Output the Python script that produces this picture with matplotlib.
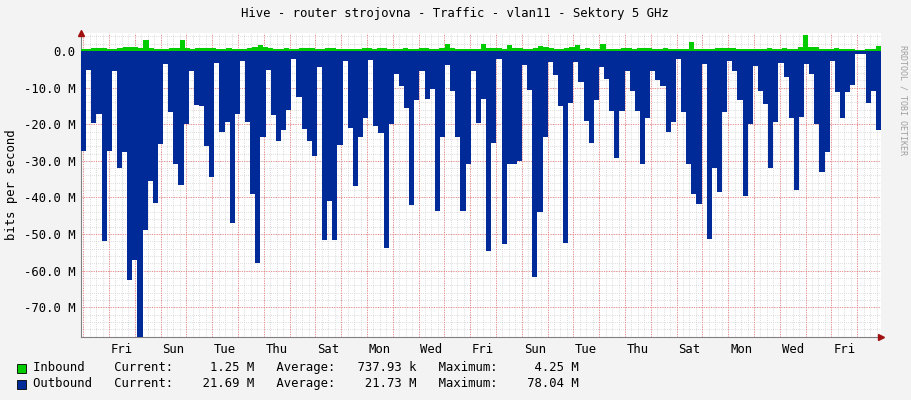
import matplotlib
matplotlib.use("Agg")
import matplotlib.pyplot as plt
import numpy as np

# Outbound traffic (Mbit/s, magnitude; drawn negative), ~4.8h steps
outbound = [27.2,5.2,19.7,17.2,52,27.2,5.5,32,27.6,62.6,57,78,49,35.5,41.4,25.4,3.6,16.8,31,36.5,
            20,5.5,14.7,15,26,34.3,3.4,22,19.5,47,17.2,2.7,19.5,39,58,23.4,5.2,17.5,24.5,21.7,
            16,2.2,12.5,21.4,24.7,28.8,4.3,51.7,41,51.7,25.6,2.7,21,
            36.8,23.4,18.4,2.5,20.6,22.5,53.8,20,6.3,9.7,15.5,42,13.5,5.5,13,10.3,43.8,23.4,3.8,10.8,
            23.4,43.8,31,5.5,19.7,13,54.5,25,2.2,52.7,31,30.8,30,3.8,10.6,61.8,44,23.5,3,6.5,14.9,
            52.5,14.3,3,8.5,19,25.2,13.5,4.3,7.6,16.5,29.3,
            16.5,5.6,10.8,16.5,31,18.4,5.5,7.9,9.7,22.2,19.3,2.2,16.7,31,39,41.8,3.6,51.4,32,38.4,
            16.7,2.7,5.4,13.4,39.7,20,4.1,11,14.5,32,19.5,3.4,7,18.4,38,18,3.6,6.4,20,33,27.5,2.7,
            11.3,18.4,11.3,9.3,0.8,0.8,14.3,11,21.7]
# Inbound traffic (Mbit/s)
inbound = [0.5,0.6,0.8,0.9,0.7,0.5,0.6,0.9,1.0,1.2,1.0,0.8,3.0,0.8,0.6,0.5,0.6,0.7,0.8,3.0,
           0.8,0.6,0.9,0.9,0.9,0.7,0.5,0.6,0.7,0.6,0.5,0.5,0.8,1.2,1.5,1.1,0.8,0.6,0.5,0.7,
           0.6,0.5,0.7,0.8,0.7,0.6,0.5,0.8,0.7,0.6,0.5,0.6,0.5,
           0.6,0.8,0.9,0.5,0.9,0.9,0.4,0.4,0.5,0.8,0.4,0.6,0.8,0.8,0.6,0.5,0.9,1.8,0.7,0.5,
           0.6,0.5,0.6,0.5,2.0,0.9,0.9,0.8,0.5,1.6,0.9,0.8,0.5,0.6,0.8,1.4,1.0,0.8,0.5,0.6,
           0.9,1.2,1.5,0.5,0.9,0.6,0.6,1.9,0.5,0.5,0.6,0.8,
           0.9,0.6,0.7,0.8,0.8,0.5,0.6,0.7,0.6,0.6,0.5,0.5,2.4,0.5,0.6,0.6,0.4,0.9,0.8,0.8,
           0.7,0.5,0.6,0.5,0.6,0.5,0.6,0.7,0.6,0.6,0.7,0.5,0.6,1.0,4.25,1.0,1.1,0.6,0.5,0.6,
           0.7,0.6,0.5,0.6,0.3,0.3,0.6,0.5,1.25]
day_labels = ["Fri","Sun","Tue","Thu","Sat","Mon","Wed","Fri","Sun","Tue","Thu","Sat","Mon","Wed","Fri"]
ytick_vals = [0,-10,-20,-30,-40,-50,-60,-70]
ytick_labels = ["0.0","-10.0 M","-20.0 M","-30.0 M","-40.0 M","-50.0 M","-60.0 M","-70.0 M"]

W, H = 911, 400
fig = plt.figure(figsize=(W/100, H/100), dpi=100, facecolor="#F3F3F3")
ax = fig.add_axes([81/W, 63/H, 800/W, 304/H])
ax.set_facecolor("white")

x0, x1 = -1.085, -1.085 + 800/25.8

def step_fill(vals, color):
    v = np.asarray(vals, dtype=float)
    e = np.linspace(x0, x1, len(v) + 1)
    ax.fill_between(e, np.append(v, v[-1]), 0, step="post", color=color, lw=0, zorder=3)

step_fill(-np.array(outbound), "#002A97")
step_fill(inbound, "#00CC00")

ax.set_xlim(x0, x1)
ax.set_ylim(-78.1, 4.9)
mono = "DejaVu Sans Mono"
ax.set_xticks([2*i + 0.5 for i in range(len(day_labels))])
ax.set_xticklabels(day_labels, family=mono, fontsize=8.8)
ax.set_yticks(ytick_vals)
ax.set_yticklabels(ytick_labels, family=mono, fontsize=8.8)
ax.tick_params(which="both", length=0, pad=4, colors="#000000")
for v in np.arange(-78, 5, 2):
    ax.axhline(v, color="#D0D0D0", lw=0.6, ls=(0, (1, 1.5)), zorder=1)
for v in np.arange(-1, 30.5, 0.25):
    ax.axvline(v, color="#D0D0D0", lw=0.6, ls=(0, (1, 1.5)), zorder=1)
for v in ytick_vals:
    ax.axhline(v, color="#F08080", lw=0.7, ls=(0, (1, 1.5)), zorder=2)
for v in range(-1, 31):
    ax.axvline(v, color="#F08080", lw=0.7, ls=(0, (1, 1.5)), zorder=2)
for s in ["top", "right"]:
    ax.spines[s].set_visible(False)
ax.spines["left"].set_color("#808080")
ax.spines["bottom"].set_color("#808080")
ax.set_ylabel("bits per second", family=mono, fontsize=8.8, labelpad=4)
# axis arrows
ax.plot([1.0], [0], marker=">", color="#A01010", ms=4, transform=ax.transAxes, clip_on=False, zorder=5)
ax.plot([0], [1.0], marker="^", color="#A01010", ms=4, transform=ax.transAxes, clip_on=False, zorder=5)

fig.text(455/W, 1 - 14/H, "Hive - router strojovna - Traffic - vlan11 - Sektory 5 GHz",
         family=mono, fontsize=8.8, ha="center", va="center")
fig.text(903/W, 1 - 100/H, "RRDTOOL / TOBI OETIKER", family=mono, fontsize=6,
         color="#A0A0A0", rotation=270, ha="center", va="center")
rows = [("#00CC00", "Inbound    Current:     1.25 M   Average:   737.93 k   Maximum:     4.25 M", 368),
        ("#002A97", "Outbound   Current:    21.69 M   Average:    21.73 M   Maximum:    78.04 M", 384)]
for c, t, y in rows:
    fig.patches.append(plt.Rectangle((17/W, 1 - (y + 5)/H), 9/W, 9/H, transform=fig.transFigure,
                                     facecolor=c, edgecolor="#000000", lw=0.6))
    fig.text(33/W, 1 - y/H, t, family=mono, fontsize=8.8, va="center", ha="left")

fig.savefig("out.png", dpi=100, facecolor=fig.get_facecolor())
